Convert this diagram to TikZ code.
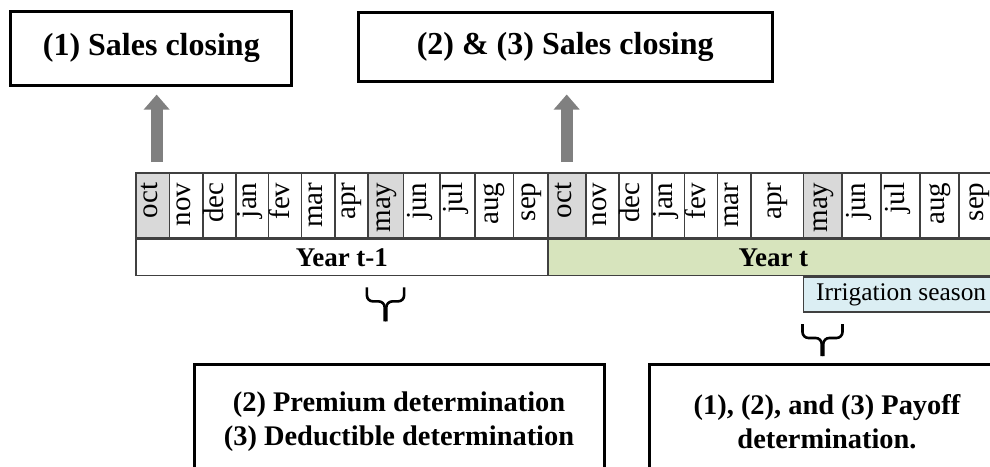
\documentclass[tikz,border=0pt]{standalone}
\usepackage{fontspec}
\setmainfont{Liberation Serif}
\usetikzlibrary{arrows.meta,positioning}
\definecolor{cellgray}{HTML}{D9D9D9}
\definecolor{yeargreen}{HTML}{D7E4BD}
\definecolor{irrblue}{HTML}{DBEEF3}
\definecolor{arrowgray}{HTML}{808080}
\definecolor{gridline}{HTML}{404040}
\begin{document}
\begin{tikzpicture}[x=0.5pt,y=-0.5pt,
  infobox/.style={draw=black, line width=1.5pt, align=center, inner sep=0pt, font=\bfseries\fontsize{14.2}{17}\selectfont},
  closebox/.style={infobox, font=\bfseries\fontsize{16}{19}\selectfont},
  cell/.style={draw=gridline, line width=0.8pt, inner sep=0pt, minimum height=32.5pt},
  monthlabel/.style={rotate=90, anchor=mid east, inner sep=0pt, font=\fontsize{14.5}{16}\selectfont},
  yearrow/.style={draw=gridline, line width=0.8pt, minimum height=18pt, inner sep=0pt, font=\bfseries\fontsize{13.5}{16}\selectfont},
  uparrow/.style={arrowgray, line width=6pt, -{Triangle[width=12.5pt,length=7.5pt]}},
  bracket/.style={line width=1.3pt, rounded corners=3pt}]
\useasboundingbox (0,0) rectangle (990,466);
\clip (0,0) rectangle (990,466);
% month cells, two years side by side
\foreach \a/\b/\m/\c [count=\i] in {136/169.3/oct/cellgray, 169.3/202.7/nov/white, 202.7/235.7/dec/white,
    235.7/268.3/jan/white, 268.3/301.3/fev/white, 301.3/334.7/mar/white, 334.7/367.7/apr/white,
    367.7/403.3/may/cellgray, 403.3/440/jun/white, 440/475/jul/white, 475/513.3/aug/white, 513.3/547.7/sep/white,
    547.7/585.7/oct/cellgray, 585.7/619/nov/white, 619/651.7/dec/white, 651.7/684.3/jan/white,
    684.3/717.3/fev/white, 717.3/750.7/mar/white, 750.7/803.3/apr/white, 803.3/841.7/may/cellgray,
    841.7/880.7/jun/white, 880.7/920/jul/white, 920/959/aug/white, 959/999/sep/white}{
  \node[cell, fill=\c, minimum width={(\b-\a)*0.5pt}] (m\i) at ({(\a+\b)/2},205.5) {};
  \node[monthlabel] at ([yshift=-5pt]m\i.north) {\m};
}
\node[yearrow, fill=white, minimum width=205.85pt, anchor=north west] (y1) at (m1.south west) {Year t-1};
\node[yearrow, fill=yeargreen, minimum width=225.65pt, anchor=north west] (y2) at (m13.south west) {Year t};
\node[cell, fill=irrblue, minimum width=97.85pt, minimum height=17.5pt, anchor=north west,
  font=\fontsize{12.7}{15}\selectfont] (irr) at (m20.south west |- y2.south) {Irrigation season};
% boxes
\node[closebox, minimum width=140.5pt, minimum height=36.9pt] (close1) at (151.3,48.2) {(1) Sales closing};
\node[closebox, minimum width=206.8pt, minimum height=34.5pt] (close2) at (565.2,46.5) {(2) \& (3) Sales closing};
\node[infobox, minimum width=205pt, minimum height=57.3pt] (premium) at (399,422) {(2) Premium determination\\(3) Deductible determination};
\node[infobox, minimum width=177.7pt, minimum height=57.3pt] (payoff) at (827,422) {(1), (2), and (3) Payoff\\determination.};
% arrows
\draw[uparrow, shorten >=4pt, transform canvas={xshift=2pt}] ([yshift=5pt]m1.north) -- (m1.north |- close1.south);
\draw[uparrow, shorten >=6pt] ([yshift=5pt]m13.north) -- (m13.north |- close2.south);
% braces under may
\draw[bracket] (m8.south west |- y1.south) ++(0,-5.5pt) -- ++(0,-7pt) -- ++(8.9pt,0) -- ++(0,-10pt);
\draw[bracket] (m8.south east |- y1.south) ++(0,-5.5pt) -- ++(0,-7pt) -- ++(-8.9pt,0) -- ++(0,-10pt);
\draw[bracket] (m20.south west |- irr.south) ++(0,-5.5pt) -- ++(0,-7pt) -- ++(9.6pt,0) -- ++(0,-9pt);
\draw[bracket] (m20.south east |- irr.south) ++(0,-5.5pt) -- ++(0,-7pt) -- ++(-9.6pt,0) -- ++(0,-9pt);
\end{tikzpicture}
\end{document}
